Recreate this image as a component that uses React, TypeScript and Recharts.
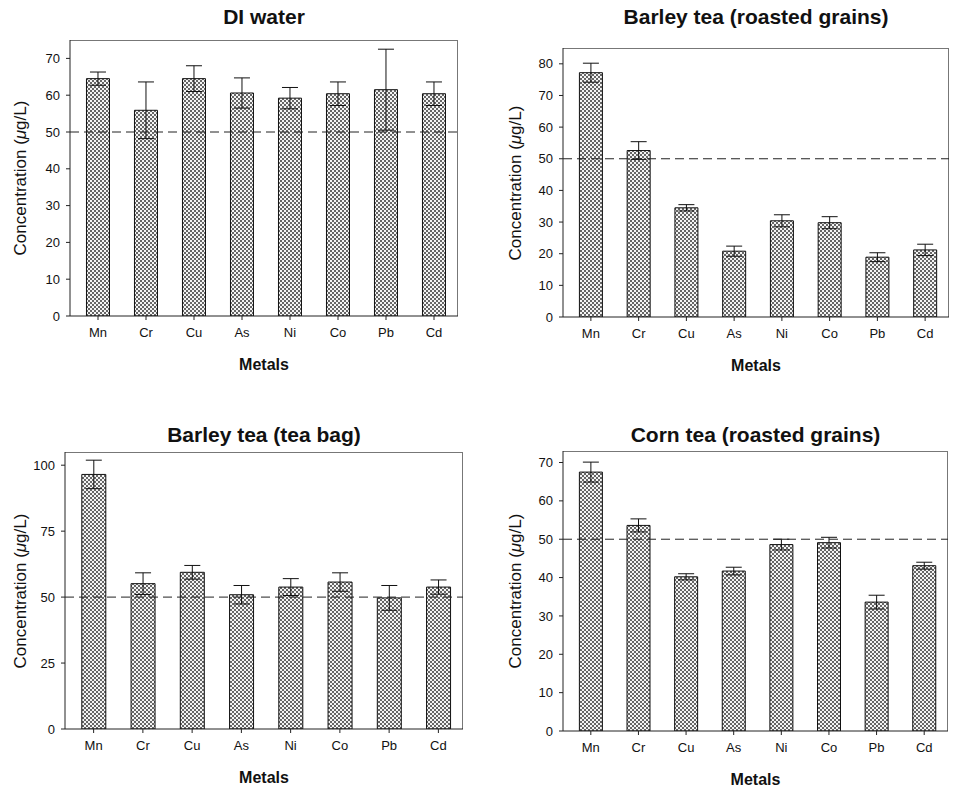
import { BarChart, Bar, XAxis, YAxis, ErrorBar, ReferenceLine } from 'recharts'

const metals = ['Mn', 'Cr', 'Cu', 'As', 'Ni', 'Co', 'Pb', 'Cd']

const diWater = [64.5, 55.9, 64.5, 60.6, 59.2, 60.4, 61.5, 60.4]
const diWaterErr = [1.8, 7.7, 3.5, 4.1, 2.9, 3.2, 11, 3.2]

const barleyRoasted = [77.2, 52.6, 34.5, 20.8, 30.4, 29.8, 18.9, 21.2]
const barleyRoastedErr = [3, 2.8, 1, 1.6, 1.9, 1.9, 1.4, 1.8]

const barleyBag = [96.5, 55.1, 59.4, 50.9, 53.8, 55.7, 49.7, 53.8]
const barleyBagErr = [5.4, 4.1, 2.6, 3.5, 3.2, 3.5, 4.7, 2.7]

const cornRoasted = [67.5, 53.6, 40.2, 41.7, 48.6, 49.1, 33.6, 43.1]
const cornRoastedErr = [2.6, 1.7, 0.8, 1, 1.4, 1.4, 1.8, 0.9]

const ticksTen = [0, 10, 20, 30, 40, 50, 60, 70]
const ticksTenTo80 = [0, 10, 20, 30, 40, 50, 60, 70, 80]
const ticksQuarter = [0, 25, 50, 75, 100]

const FONT = '"Liberation Sans", Arial, sans-serif'

function makeRows(values: number[], errs: number[]) {
  return metals.map((m, i) => ({ metal: m, value: values[i], err: errs[i] }))
}

interface PanelProps {
  title: string
  values: number[]
  errs: number[]
  domain: [number, number]
  ticks: number[]
  left: number
  top: number
  height: number
  titleTop: number
  labelX: number
  frame: { l: number; t: number; r: number; b: number }
}

function Panel({ title, values, errs, domain, ticks, left, top, height, titleTop, labelX, frame }: PanelProps) {
  const width = 478
  const yW = 40
  const xH = 30
  const data = makeRows(values, errs)
  const plotMid = (frame.l + frame.r) / 2
  return (
    <div style={{ position: 'absolute', left, top, width, height }}>
      <div style={{
        position: 'absolute', left: plotMid - 200, width: 400, top: titleTop,
        textAlign: 'center', fontFamily: FONT, fontWeight: 'bold', fontSize: 21, color: '#111',
      }}>{title}</div>
      <div style={{
        position: 'absolute', left: labelX - 150, top: (frame.t + frame.b) / 2 - 10, width: 300,
        textAlign: 'center', fontFamily: FONT, fontSize: 17, color: '#111',
        transform: 'rotate(-90deg)', transformOrigin: '150px 10px', lineHeight: '20px',
      }}>Concentration (<i>μ</i>g/L)</div>
      <div style={{
        position: 'absolute', left: plotMid - 100, width: 200, top: frame.b + 40,
        textAlign: 'center', fontFamily: FONT, fontWeight: 'bold', fontSize: 16, color: '#111',
      }}>Metals</div>
      <div style={{
        position: 'absolute', left: frame.l, top: frame.t, width: frame.r - frame.l, height: frame.b - frame.t,
        borderTop: '1px solid #777', borderRight: '1px solid #777', boxSizing: 'border-box', pointerEvents: 'none',
      }} />
      <BarChart
        width={width}
        height={height}
        data={data}
        barCategoryGap="26%"
        margin={{ top: frame.t, left: frame.l - yW, right: width - frame.r, bottom: height - frame.b - xH }}
      >
        <XAxis
          dataKey="metal"
          height={xH}
          tick={{ fill: '#111', fontSize: 13, fontFamily: FONT }}
          tickSize={4}
          tickMargin={8}
          stroke="#222"
          padding={{ left: 4, right: 0 }}
        />
        <YAxis
          width={yW}
          domain={domain}
          ticks={ticks}
          allowDataOverflow
          tick={{ fill: '#111', fontSize: 13, fontFamily: FONT }}
          tickSize={4}
          tickMargin={6}
          stroke="#222"
        />
        <Bar dataKey="value" fill="url(#dots)" stroke="#111" strokeWidth={1} isAnimationActive={false}>
          <ErrorBar dataKey="err" width={8} stroke="#111" strokeWidth={1} direction="y" />
        </Bar>
        <ReferenceLine y={50} stroke="#222" strokeDasharray="9 5" strokeWidth={1} />
      </BarChart>
    </div>
  )
}

export default function App() {
  return (
    <div style={{ position: 'absolute', left: 0, top: 0, width: 956, height: 791, background: '#fff' }}>
      <svg width={0} height={0} style={{ position: 'absolute' }}>
        <defs>
          <pattern id="dots" width={4} height={4} patternUnits="userSpaceOnUse">
            <rect x={0} y={0} width={4} height={4} fill="#f4f4f4" />
            <rect x={0} y={0} width={2} height={2} fill="#666" />
            <rect x={2} y={2} width={2} height={2} fill="#666" />
          </pattern>
        </defs>
      </svg>
      <Panel title="DI water" values={diWater} errs={diWaterErr} domain={[0, 75]} ticks={ticksTen}
        left={0} top={0} height={395} titleTop={5} labelX={21} frame={{ l: 70, t: 40, r: 458, b: 316 }} />
      <Panel title="Barley tea (roasted grains)" values={barleyRoasted} errs={barleyRoastedErr} domain={[0, 85]} ticks={ticksTenTo80}
        left={478} top={0} height={395} titleTop={5} labelX={38} frame={{ l: 85, t: 48, r: 471, b: 317 }} />
      <Panel title="Barley tea (tea bag)" values={barleyBag} errs={barleyBagErr} domain={[0, 105]} ticks={ticksQuarter}
        left={0} top={395} height={396} titleTop={28} labelX={21} frame={{ l: 65, t: 57, r: 463, b: 334 }} />
      <Panel title="Corn tea (roasted grains)" values={cornRoasted} errs={cornRoastedErr} domain={[0, 73]} ticks={ticksTen}
        left={478} top={395} height={396} titleTop={28} labelX={38} frame={{ l: 85, t: 56, r: 470, b: 336 }} />
    </div>
  )
}
